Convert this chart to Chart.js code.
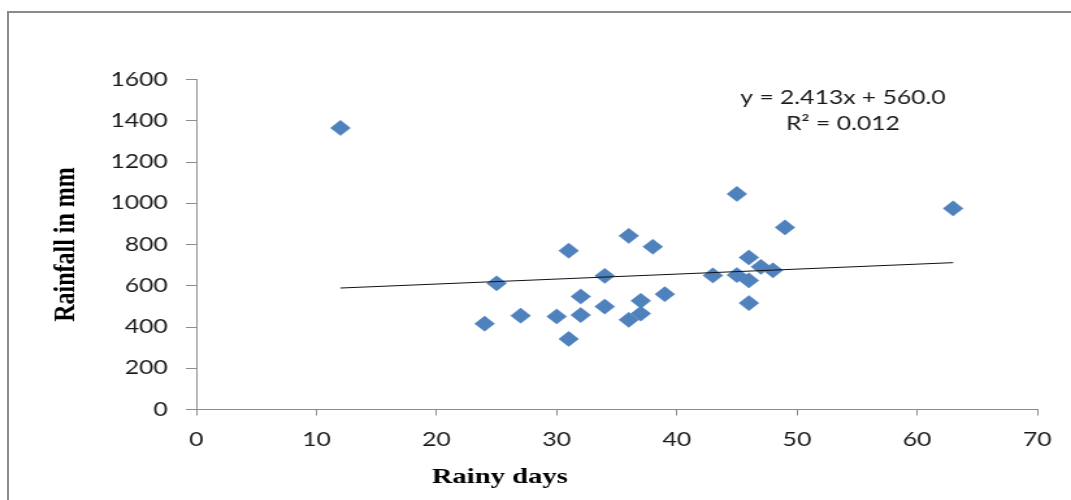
<!DOCTYPE html>
<html>
<head>
<meta charset="utf-8">
<script src="https://cdn.jsdelivr.net/npm/chart.js@4.4.1/dist/chart.umd.min.js"></script>
<style>
  html, body { margin: 0; padding: 0; background: #ffffff; overflow: hidden; }
  #frame { position: absolute; left: 7px; top: 11px; width: 1200px; height: 600px;
           border-top: 2px solid #8a8a8a; border-left: 2px solid #8a8a8a; }
  #wrap { position: absolute; left: 0; top: 0; width: 824px; height: 500px;
          transform: scaleX(1.2998); transform-origin: 0 0; }
</style>
</head>
<body>
<div id="frame"></div>
<div id="wrap"><canvas id="c"></canvas></div>
<script>
// ---- data ----
const rainyDays = [12, 24, 25, 27, 30, 31, 31, 32, 32, 34, 34, 36, 36, 37, 37, 38, 39, 43, 45, 45, 46, 46, 46, 47, 48, 49, 63];
const rainfall  = [1365, 416, 612, 455, 451, 770, 342, 548, 458, 648, 499, 842, 435, 527, 465, 789, 559, 650, 1045, 652, 737, 626, 516, 692, 675, 883, 975];
const trendX = [12, 63];
const trendY = [589, 712];
const xTicks = [0, 10, 20, 30, 40, 50, 60, 70];
const yTicks = [0, 200, 400, 600, 800, 1000, 1200, 1400, 1600];
const yTitle = 'Rainfall in mm';
const xTitle = 'Rainy days';
const eqLine1 = 'y = 2.413x + 560.0';
const eqLine2 = 'R\u00B2 = 0.012';

const scatterPts = rainyDays.map((d, i) => ({ x: d, y: rainfall[i] }));
const trendPts = trendX.map((d, i) => ({ x: d, y: trendY[i] }));

const tickFont = { family: 'Lato', size: 19 };
const tickColor = '#1a1a1a';
const axisGray = '#8c8c8c';

const textPlugin = {
  id: 'extraText',
  afterDraw(chart) {
    const ctx = chart.ctx;
    ctx.save();
    ctx.fillStyle = '#1a1a1a';
    ctx.textAlign = 'center';
    ctx.textBaseline = 'middle';
    ctx.font = '19px Lato';
    ctx.fillText(eqLine1, 648.5, 98);
    ctx.fillText(eqLine2, 648.5, 124);
    ctx.fillStyle = '#000';
    ctx.font = 'bold 22px "Liberation Serif"';
    ctx.fillText(xTitle, 384.5, 477);
    ctx.restore();
  }
};

new Chart(document.getElementById('c'), {
  type: 'scatter',
  data: {
    datasets: [
      {
        label: 'Rainfall',
        data: scatterPts,
        pointStyle: 'rectRot',
        pointRadius: 7.6,
        pointHoverRadius: 7.6,
        backgroundColor: '#4F81BD',
        borderColor: '#4F81BD',
        borderWidth: 0.5,
        showLine: false,
        order: 2
      },
      {
        label: 'Trend',
        data: trendPts,
        showLine: true,
        borderColor: '#111111',
        borderWidth: 1,
        pointRadius: 0,
        fill: false,
        order: 1
      }
    ]
  },
  options: {
    responsive: true,
    maintainAspectRatio: false,
    animation: false,
    events: [],
    layout: { padding: { left: 0, top: 79.5, right: 26, bottom: 0 } },
    plugins: {
      legend: { display: false },
      tooltip: { enabled: false },
      title: { display: false }
    },
    scales: {
      x: {
        type: 'linear',
        min: 0, max: 70,
        afterBuildTicks: s => { s.ticks = xTicks.map(v => ({ value: v })); },
        afterFit: s => { s.height = 90.5; },
        grid: { drawOnChartArea: false, drawTicks: true, tickLength: 6, color: axisGray, tickColor: axisGray },
        border: { display: true, color: axisGray, width: 1 },
        ticks: { font: tickFont, color: tickColor, padding: 13, maxRotation: 0, callback: v => String(v) },
        title: { display: false }
      },
      y: {
        type: 'linear',
        min: 0, max: 1600,
        afterBuildTicks: s => { s.ticks = yTicks.map(v => ({ value: v })); },
        afterFit: s => { s.width = 151; },
        grid: { drawOnChartArea: false, drawTicks: true, tickLength: 8, color: axisGray, tickColor: axisGray },
        border: { display: true, color: axisGray, width: 1 },
        ticks: { font: tickFont, color: tickColor, padding: 14, callback: v => String(v) },
        title: {
          display: true,
          text: yTitle,
          color: '#000',
          font: { family: 'Liberation Serif', size: 24, weight: 'bold' },
          padding: { top: 36, bottom: 0 }
        }
      }
    }
  },
  plugins: [textPlugin]
});
</script>
</body>
</html>
